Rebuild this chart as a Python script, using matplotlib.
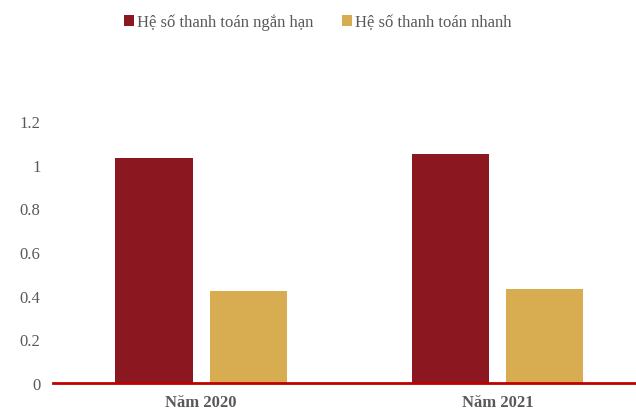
import numpy as np
import matplotlib.pyplot as plt

plt.rcParams['font.family'] = ['Liberation Serif', 'DejaVu Serif']

# Data
years = ['Năm 2020', 'Năm 2021']
current_ratio = [1.03, 1.05]
quick_ratio = [0.42, 0.43]
series_names = ['Hệ số thanh toán ngắn hạn', 'Hệ số thanh toán nhanh']
yticks = [0, 0.2, 0.4, 0.6, 0.8, 1, 1.2]
ytick_labels = ['0', '0.2', '0.4', '0.6', '0.8', '1', '1.2']

red = '#8B1820'
gold = '#D8AC50'
text_grey = '#595959'

fig = plt.figure(figsize=(6.36, 4.10), dpi=100)
ax = fig.add_axes([0.0833, 0.0634, 0.9167, 0.639])

x = np.arange(len(years))
w = 0.26
off = 0.159
ax.bar(x - off, current_ratio, w, color=red, label=series_names[0])
ax.bar(x + off, quick_ratio, w, color=gold, label=series_names[1])

ax.set_xlim(-0.5, 1.468)
ax.set_ylim(0, 1.2)
ax.set_yticks(yticks)
ax.set_yticklabels(ytick_labels)
ax.set_xticks(x)
ax.set_xticklabels(years, fontweight='bold')

for s in ['top', 'right', 'left']:
    ax.spines[s].set_visible(False)
ax.spines['bottom'].set_color('#C00000')
ax.spines['bottom'].set_linewidth(2.0)
ax.tick_params(axis='y', length=0, pad=9, labelsize=12, labelcolor=text_grey)
ax.tick_params(axis='x', length=0, pad=8, labelsize=12, labelcolor=text_grey)

fig.legend(loc='upper center', bbox_to_anchor=(0.5, 1.0), ncol=2, frameon=False,
           fontsize=12, handlelength=0.6, handleheight=0.6, handletextpad=0.2,
           columnspacing=1.7, labelcolor=text_grey)

fig.savefig('out.png', dpi=100)
